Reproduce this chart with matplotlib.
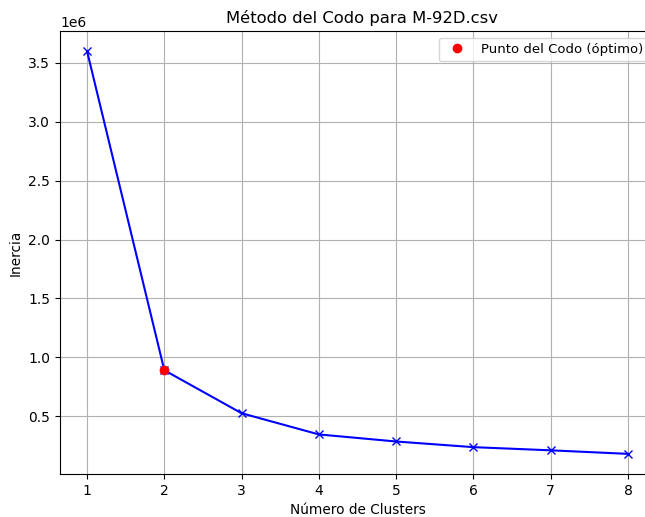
import matplotlib
matplotlib.use("Agg")
import matplotlib.pyplot as plt

clusters = [1, 2, 3, 4, 5, 6, 7, 8]
inercia = [3.60e6, 0.89e6, 0.525e6, 0.345e6, 0.285e6, 0.237e6, 0.210e6, 0.180e6]
codo_k = 2
codo_val = 0.89e6

fig = plt.figure(figsize=(6.45, 5.17), dpi=100)
ax = fig.add_axes([60/645, 43/517, 595/645, 443/517])
ax.plot(clusters, inercia, 'bx-')
ax.plot(codo_k, codo_val, 'ro', label='Punto del Codo (óptimo)')
ax.set_xlabel('Número de Clusters', fontsize=9.8)
ax.set_ylabel('Inercia', fontsize=9.8)
ax.set_title('Método del Codo para M-92D.csv', fontsize=11.8, x=0.5 + 4/595)
ax.grid(True)
ax.legend(loc='upper right', fontsize=9.5)
fig.savefig('out.png', dpi=100)
